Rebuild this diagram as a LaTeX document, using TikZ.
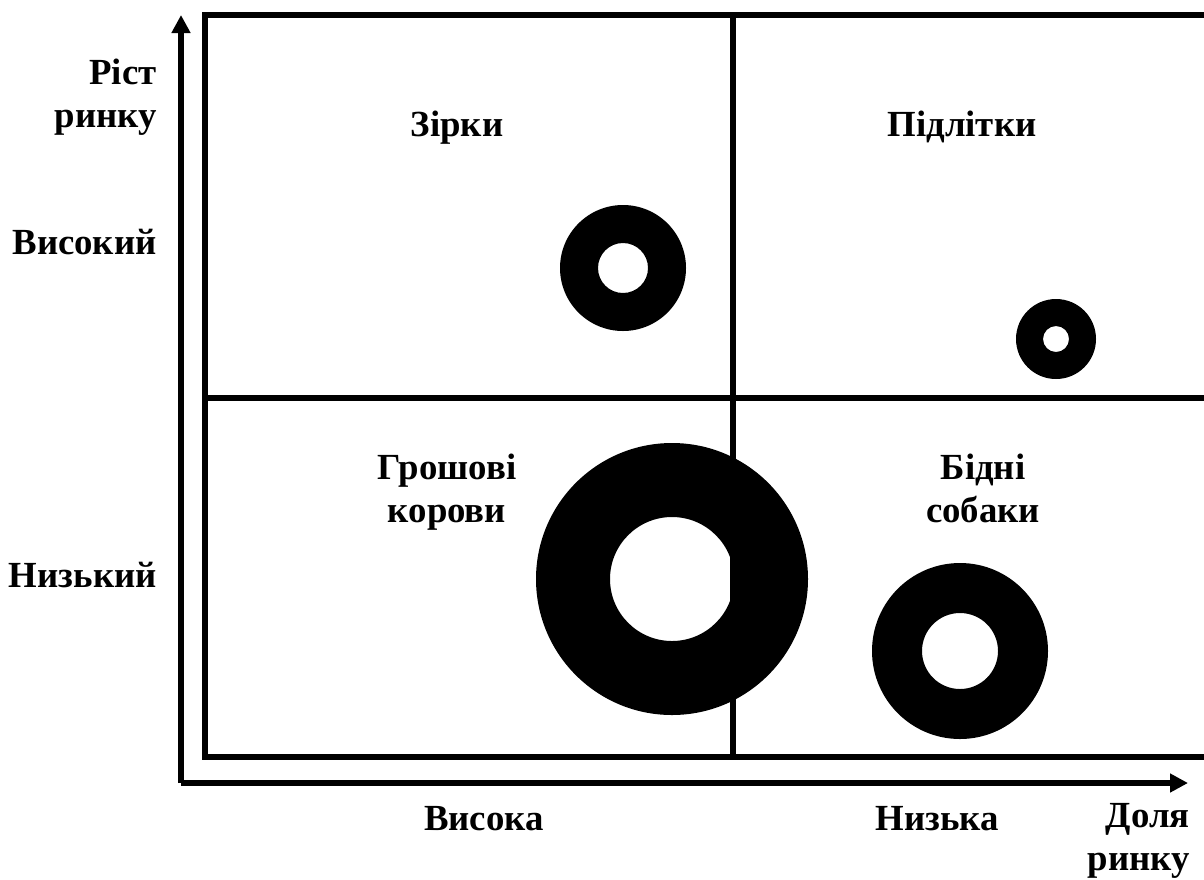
\documentclass[tikz,border=0pt]{standalone}
\usepackage{fontspec}
\setmainfont{Liberation Serif}
\usetikzlibrary{arrows.meta, positioning}

\tikzset{
    frameline/.style={line width=2.9pt},
    axisline/.style={line width=2.9pt, -{Triangle[length=9pt, width=9pt]}},
    txt/.style={font=\fontsize{18.4}{21.5}\selectfont\bfseries, inner sep=0pt, align=center},
    ring/.style={fill=black, even odd rule}
}

\begin{document}
\begin{tikzpicture}[x=0.5pt, y=-0.5pt]
    \useasboundingbox (0,0) rectangle (1204,879);
    \clip (0,0) rectangle (1204,879);

    % Axes
    \coordinate (origin) at (181,783);
    \coordinate (ytip) at (181,15);
    \coordinate (xtip) at (1188,783);
    \draw[axisline] (origin) -- (ytip);
    \draw[axisline] (origin) -- (xtip);

    % Matrix frame & quadrants (right side runs off the page)
    \draw[frameline] (1215,15) -- (205,15) -- (205,757) -- (1215,757);
    \draw[frameline] (205,398) -- (1215,398);
    \draw[frameline] (733,15) -- (733,757);

    % Rings: outer / inner radius
    \fill[ring] (623,268) circle (63) (623,268) circle (25);
    \fill[ring] (1056,339) circle (40) (1056,339) circle (13);
    \fill[ring] (672,579) circle (136) (672,579) circle (62);
    \fill[ring] (960,651) circle (88) (960,651) circle (38);

    % Y axis labels (two-line nodes sit on their last line)
    \node[txt, align=right, anchor=base east] (growth) at (157,127) {Ріст\\ринку};
    \node[txt, anchor=base east] (yhigh) at (157,254) {Високий};
    \node[txt, anchor=base east] (ylow) at (157,587) {Низький};

    % Quadrant names
    \node[txt, anchor=base] (stars) at (457,136) {Зірки};
    \node[txt, anchor=base] (teens) at (962,136) {Підлітки};
    \node[txt, anchor=base] (cows) at (447,522) {Грошові\\корови};
    \node[txt, anchor=base] (dogs) at (983,522) {Бідні\\собаки};

    % X axis labels
    \node[txt, anchor=base] (xhigh) at (484,830) {Висока};
    \node[txt, anchor=base] (xlow) at (937,830) {Низька};
    \node[txt, align=right, anchor=base east] (share) at (1190,870) {Доля\\ринку};
\end{tikzpicture}
\end{document}
